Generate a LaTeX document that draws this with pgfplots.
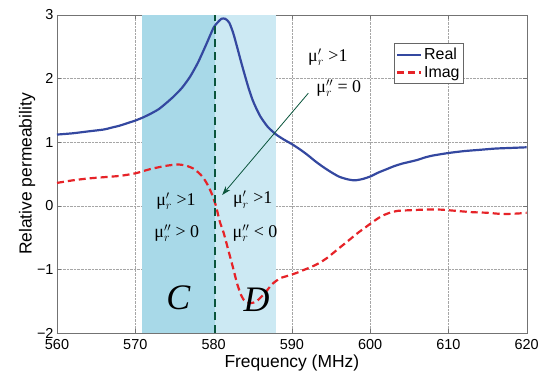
\documentclass[border=0pt]{standalone}
\usepackage{fontspec}
\setmainfont{Liberation Sans}
\newfontfamily\serif{Liberation Serif}
\usepackage{pgfplots}
\pgfplotsset{compat=1.18}
\usetikzlibrary{arrows.meta}
\definecolor{realblue}{RGB}{52,72,160}
\definecolor{imagred}{RGB}{230,35,40}
\definecolor{regC}{RGB}{168,217,232}
\definecolor{regD}{RGB}{204,233,243}
\definecolor{dgreen}{RGB}{10,85,60}
\begin{document}
\begin{tikzpicture}
\path[use as bounding box] (-57bp,-40bp) rectangle (483bp,333bp);
\begin{axis}[
  scale only axis, width=469.7bp, height=318bp,
  xmin=560, xmax=620, ymin=-2, ymax=3,
  xtick={560,570,...,620}, ytick={-2,-1,0,1,2,3},
  yticklabels={−2,−1,0,1,2,3},
  /pgf/number format/assume math mode=true,
  tick align=inside, tick pos=both,
  major tick length=4bp,
  axis line style={draw=gray!90!black},
  every tick/.style={draw=gray!90!black},
  grid=major, grid style={densely dotted, gray!70},
  tick label style={font=\fontsize{14.5}{16}\selectfont},
  xticklabel style={yshift=-2.5bp},
  xlabel={Frequency (MHz)}, ylabel={Relative permeability},
  label style={font=\fontsize{17.5}{19}\selectfont},
  xlabel style={yshift=1bp},
  ylabel style={yshift=-5bp},
  legend style={at={(rel axis cs:0.717,0.912)}, anchor=north west,
    draw=gray!80!black, fill=white, font=\fontsize{16}{18}\selectfont,
    inner xsep=2bp, inner ysep=3bp, row sep=1bp},
  legend cell align=left,
  legend image code/.code={\draw[#1] (0bp,0bp) -- (24bp,0bp);},
]
\addplot[fill=regC, draw=none, forget plot] coordinates {(570.8,-2) (580.2,-2) (580.2,3) (570.8,3)} -- cycle;
\addplot[fill=regD, draw=none, forget plot] coordinates {(580.2,-2) (588,-2) (588,3) (580.2,3)} -- cycle;
\addplot[realblue, line width=2.2pt, smooth, tension=0.4] coordinates {
(560,1.12) (562,1.14) (564,1.17) (566,1.20) (567,1.23) (568,1.26) (569,1.30) (570,1.34) (571,1.39)
(572,1.45) (573,1.52) (574,1.62) (575,1.73) (576,1.86) (577,2.03) (578,2.25)
(579,2.52) (580,2.80) (580.5,2.88) (581,2.94) (581.5,2.94) (582,2.88) (582.5,2.72)
(583,2.50) (583.5,2.27) (584,2.05) (584.5,1.84) (585,1.66) (585.5,1.52) (586,1.40)
(586.5,1.31) (587,1.23) (588,1.12) (589,1.04) (590,0.97) (591,0.89) (592,0.80)
(593,0.70) (594,0.61) (595,0.53) (596,0.46) (597,0.42) (598,0.40) (599,0.42)
(600,0.46) (601,0.52) (602,0.57) (603,0.62) (604,0.66) (605,0.69) (606,0.72)
(607,0.76) (608,0.79) (610,0.83) (612,0.86) (614,0.88) (616,0.90) (618,0.91) (620,0.92)
};
\addlegendentry{Real}
\addplot[imagred, line width=2.2pt, dash pattern=on 7bp off 4bp, smooth, tension=0.4] coordinates {
(560,0.36) (562,0.40) (564,0.43) (566,0.45) (568,0.47) (570,0.51) (572,0.58)
(574,0.63) (575.5,0.65) (576.5,0.63) (577.5,0.58) (578.5,0.47) (579.2,0.34)
(579.8,0.18) (580.3,0.00) (580.8,-0.25) (581.3,-0.43) (582,-0.75) (582.5,-0.98)
(583,-1.22) (583.5,-1.40) (584,-1.50) (584.8,-1.53) (585.5,-1.50) (586.5,-1.38)
(587.5,-1.23) (588.5,-1.14) (589.5,-1.10) (590.5,-1.06) (591.5,-1.01) (592.5,-0.96)
(593.5,-0.90) (594.5,-0.82) (595.5,-0.72) (596.5,-0.62) (597.5,-0.52) (598.5,-0.42)
(599.5,-0.33) (600.5,-0.24) (601.5,-0.16) (602.5,-0.11) (603.5,-0.08) (605,-0.07)
(607,-0.06) (609,-0.06) (611,-0.08) (613,-0.10) (615,-0.11) (617,-0.13) (619,-0.12) (620,-0.11)
};
\addlegendentry{Imag}
\addplot[dgreen, line width=2pt, dash pattern=on 8bp off 5bp, forget plot] coordinates {(580.2,-2) (580.2,3)};
\draw[dgreen, line width=0.8pt, -{Stealth[length=9bp,width=6bp]}] (axis cs:592.1,1.77) -- (axis cs:581.1,0.17);
\node[font=\serif\fontsize{18}{20}\selectfont] at (axis cs:594.6,2.34) {μ$_r^{\prime}$ >1};
\node[font=\serif\fontsize{18}{20}\selectfont] at (axis cs:596.0,1.85) {μ$_r^{\prime\prime}$ = 0};
\node[font=\serif\fontsize{18}{20}\selectfont] at (axis cs:575.2,0.07) {μ$_r^{\prime}$ >1};
\node[font=\serif\fontsize{18}{20}\selectfont] at (axis cs:575.3,-0.43) {μ$_r^{\prime\prime}$ > 0};
\node[font=\serif\fontsize{18}{20}\selectfont] at (axis cs:585.0,0.10) {μ$_r^{\prime}$ >1};
\node[font=\serif\fontsize{18}{20}\selectfont] at (axis cs:585.3,-0.43) {μ$_r^{\prime\prime}$ < 0};
\node[font=\serif\itshape\fontsize{36}{40}\selectfont] at (axis cs:575.5,-1.45) {C};
\node[font=\serif\itshape\fontsize{36}{40}\selectfont] at (axis cs:585.5,-1.48) {D};
\end{axis}
\end{tikzpicture}
\end{document}
